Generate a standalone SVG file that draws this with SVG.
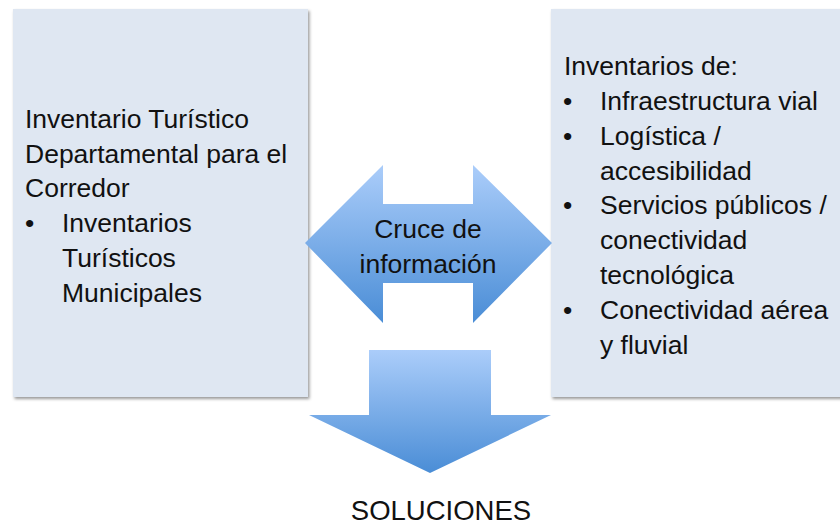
<svg xmlns="http://www.w3.org/2000/svg" width="840" height="526" viewBox="0 0 840 526">
<defs>
<linearGradient id="blue" x1="0" y1="0" x2="0" y2="1">
<stop offset="0" stop-color="#abcdfa"/>
<stop offset="1" stop-color="#4a8dd6"/>
</linearGradient>
<filter id="sh" x="-5%" y="-5%" width="115%" height="115%">
<feDropShadow dx="1.5" dy="2" stdDeviation="1.5" flood-color="#000" flood-opacity="0.4"/>
</filter>
</defs>
<style>
.box{fill:#dfe7f2;filter:url(#sh)}
.arrow{fill:url(#blue)}
text{font-family:"Liberation Sans",Arial,sans-serif;font-size:26.5px;fill:#111}
.c{text-anchor:middle}
</style>
<rect width="840" height="526" fill="#fff"/>
<g id="left-box">
<rect class="box" x="13" y="9" width="295" height="388"/>
<text x="25" y="128">Inventario Turístico</text>
<text x="25" y="163">Departamental para el</text>
<text x="25" y="197">Corredor</text>
<text x="25" y="232">•</text>
<text x="62" y="232">Inventarios</text>
<text x="62" y="267">Turísticos</text>
<text x="62" y="302">Municipales</text>
</g>
<g id="right-box">
<rect class="box" x="551" y="9" width="295" height="388"/>
<text x="564" y="75">Inventarios de:</text>
<text x="563" y="110">•</text>
<text x="600" y="110">Infraestructura vial</text>
<text x="563" y="145">•</text>
<text x="600" y="145">Logística /</text>
<text x="600" y="180">accesibilidad</text>
<text x="563" y="214">•</text>
<text x="600" y="214">Servicios públicos /</text>
<text x="600" y="249">conectividad</text>
<text x="600" y="284">tecnológica</text>
<text x="563" y="319">•</text>
<text x="600" y="319">Conectividad aérea</text>
<text x="600" y="354">y fluvial</text>
</g>
<g id="connectors">
<g id="cruce">
<polygon class="arrow" points="305,243 383,165 383,204 473,204 473,165 552,243 473,323 473,283 383,283 383,323"/>
<text class="c" x="428" y="238">Cruce de</text>
<text class="c" x="428" y="273">información</text>
</g>
<g id="down-arrow">
<polygon class="arrow" points="369,350 491,350 491,415 551,415 430,473 309,415 369,415"/>
</g>
</g>
<g id="soluciones">
<text class="c" x="441" y="520" style="font-size:27.5px">SOLUCIONES</text>
</g>
</svg>
